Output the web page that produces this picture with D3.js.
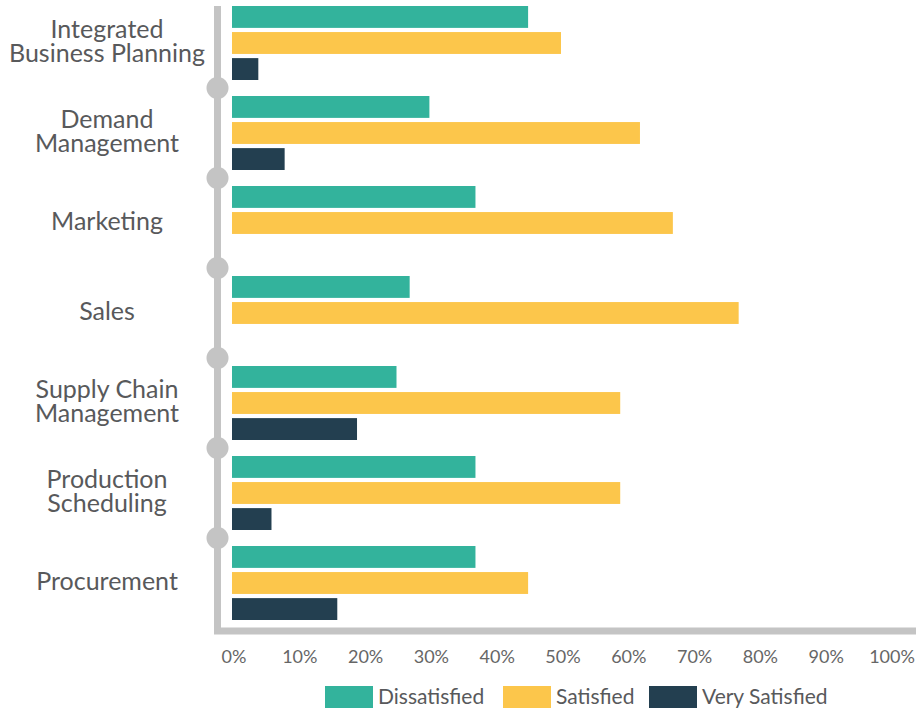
<!DOCTYPE html>
<html>
<head>
<meta charset="utf-8">
<script src="https://cdn.jsdelivr.net/npm/d3@7"></script>
<style>
  body { margin: 0; background: #fff; }
  text { font-family: Lato, "Open Sans", sans-serif; }
</style>
</head>
<body>
<svg id="chart" width="916" height="709"></svg>
<script>
// data
let categories = [
    ["Integrated", "Business Planning"],
    ["Demand", "Management"],
    ["Marketing"],
    ["Sales"],
    ["Supply Chain", "Management"],
    ["Production", "Scheduling"],
    ["Procurement"]
];
let series = ["Dissatisfied", "Satisfied", "Very Satisfied"];
let dissatisfied = [45, 30, 37, 27, 25, 37, 37];
let satisfied = [50, 62, 67, 77, 59, 59, 45];
let verySatisfied = [4, 8, null, null, 19, 6, 16];
let tickValues = [0, 10, 20, 30, 40, 50, 60, 70, 80, 90, 100];
let colors = ["#33b39c", "#fcc64b", "#233f50"];

let svg = d3.select('#chart');
let names = categories.map(d => d.join(' '));
let values = [dissatisfied, satisfied, verySatisfied];

let x = d3.scaleLinear().domain([0, 100]).range([232, 890]);
let y = d3.scaleBand().domain(names).range([0, 630]);
let sub = d3.scaleBand().domain(series).range([6, 80]).paddingInner(0.16);
let color = d3.scaleOrdinal().domain(series).range(colors);

// bars
let rows = [];
names.forEach((n, i) => {
    series.forEach((s, j) => {
        if (values[j][i] != null) rows.push({ cat: n, series: s, value: values[j][i] });
    });
});

svg.append('g')
    .selectAll('rect')
    .data(rows)
    .enter()
    .append('rect')
    .attr('x', x(0))
    .attr('y', d => y(d.cat) + sub(d.series))
    .attr('width', d => x(d.value) - x(0))
    .attr('height', sub.bandwidth())
    .attr('fill', d => color(d.series));

// axis lines + separator dots
let axisColor = '#c4c4c4';
svg.append('line')
    .attr('x1', 217.5).attr('x2', 217.5)
    .attr('y1', 6).attr('y2', 634)
    .attr('stroke', axisColor).attr('stroke-width', 7);
svg.append('line')
    .attr('x1', 214).attr('x2', 916)
    .attr('y1', 631).attr('y2', 631)
    .attr('stroke', axisColor).attr('stroke-width', 7);

svg.append('g')
    .selectAll('circle')
    .data(names.slice(1))
    .enter()
    .append('circle')
    .attr('cx', 217.5)
    .attr('cy', d => y(d) - 2)
    .attr('r', 11)
    .attr('fill', axisColor);

// category labels, centred on the bar group
let labels = svg.append('g')
    .selectAll('text')
    .data(categories)
    .enter()
    .append('text')
    .attr('text-anchor', 'middle')
    .attr('fill', '#58595b')
    .style('font-size', '25px')
    .attr('transform', (d, i) => `translate(107, ${y(names[i]) + y.bandwidth() / 2 - 4})`);

labels.selectAll('tspan')
    .data(d => d.map((t, k) => ({ t: t, k: k, n: d.length })))
    .enter()
    .append('tspan')
    .attr('x', 0)
    .attr('y', d => (d.k - (d.n - 1) / 2) * 24)
    .attr('dy', '0.35em')
    .text(d => d.t);

// x tick labels
svg.append('g')
    .selectAll('text')
    .data(tickValues)
    .enter()
    .append('text')
    .attr('x', d => x(d) + 2)
    .attr('y', 657)
    .attr('dy', '0.35em')
    .attr('text-anchor', 'middle')
    .attr('fill', '#666')
    .style('font-size', '18px')
    .text(d => d + '%');

// legend
let legendX = [325, 503, 649];
let legend = svg.append('g')
    .selectAll('g')
    .data(series)
    .enter()
    .append('g')
    .attr('transform', (d, i) => `translate(${legendX[i]}, 686)`);

legend.append('rect')
    .attr('width', 48)
    .attr('height', 22)
    .attr('fill', d => color(d));

legend.append('text')
    .attr('x', 53)
    .attr('y', 11)
    .attr('dy', '0.35em')
    .attr('fill', '#58595b')
    .style('font-size', '21px')
    .text(d => d);
</script>
</body>
</html>
